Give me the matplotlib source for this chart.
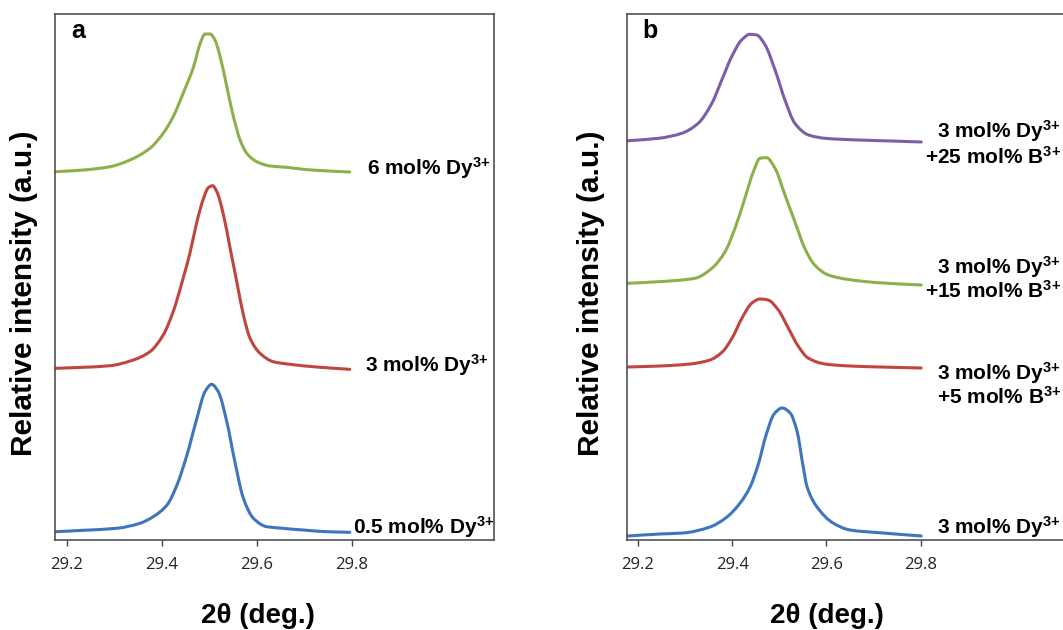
import matplotlib
matplotlib.use("Agg")
import matplotlib.pyplot as plt
import matplotlib.transforms as mtransforms
from matplotlib.path import Path
from matplotlib.patches import PathPatch

plt.rcParams['mathtext.fontset'] = 'custom'
plt.rcParams['mathtext.rm'] = 'Liberation Sans:bold'
plt.rcParams['mathtext.bf'] = 'Liberation Sans:bold'
plt.rcParams['mathtext.it'] = 'Liberation Sans:bold'

# ---------------- data (2theta in deg, relative intensity a.u., stacked) -------------
tt_a_6 = [29.177, 29.235, 29.291, 29.333, 29.375, 29.403, 29.424, 29.445, 29.467, 29.481, 29.491,
          29.502, 29.512, 29.523, 29.537, 29.551, 29.565, 29.579, 29.600, 29.628, 29.663, 29.698,
          29.740, 29.796]
int_a_6 = [368.3, 370.0, 373.3, 380.0, 391.7, 406.7, 423.3, 446.7, 473.3, 496.7, 506.0,
           506.0, 500.0, 483.3, 453.3, 423.3, 400.0, 386.7, 378.3, 374.0, 372.7, 370.7,
           369.3, 368.0]

tt_a_3 = [29.177, 29.235, 29.291, 29.340, 29.375, 29.403, 29.424, 29.445, 29.460, 29.474, 29.488,
          29.498, 29.507, 29.516, 29.530, 29.544, 29.558, 29.572, 29.586, 29.607, 29.635, 29.670,
          29.726, 29.796]
int_a_3 = [171.7, 172.7, 174.3, 180.0, 188.3, 205.0, 228.3, 261.7, 288.3, 318.3, 341.7,
           352.3, 354.3, 348.3, 325.0, 291.7, 258.3, 225.0, 201.7, 186.7, 178.3, 175.7,
           173.0, 170.7]

tt_a_05 = [29.177, 29.235, 29.305, 29.354, 29.382, 29.411, 29.432, 29.453, 29.474, 29.491, 29.505,
           29.519, 29.537, 29.554, 29.572, 29.593, 29.621, 29.656, 29.670, 29.698, 29.747, 29.796]
int_a_05 = [8.3, 9.7, 11.7, 16.7, 23.3, 35.0, 55.0, 85.0, 121.7, 148.3, 155.7,
            148.3, 118.3, 78.3, 41.7, 21.7, 13.3, 11.7, 11.0, 10.0, 8.3, 7.7]

tt_b_25 = [29.179, 29.244, 29.293, 29.328, 29.357, 29.378, 29.399, 29.420, 29.438, 29.452, 29.470,
           29.491, 29.512, 29.533, 29.562, 29.597, 29.668, 29.738, 29.801]
int_b_25 = [399.3, 401.7, 406.7, 416.7, 436.7, 460.0, 483.3, 500.0, 505.7, 505.0, 495.0,
            470.0, 440.0, 416.7, 405.0, 401.7, 400.0, 399.0, 398.0]

tt_b_15 = [29.179, 29.244, 29.321, 29.357, 29.385, 29.406, 29.427, 29.445, 29.459, 29.473, 29.491,
           29.512, 29.533, 29.554, 29.575, 29.604, 29.654, 29.710, 29.801]
int_b_15 = [256.7, 258.3, 261.7, 271.7, 288.3, 311.7, 341.7, 368.3, 381.7, 382.3, 371.7,
            345.0, 318.3, 291.7, 275.0, 265.0, 260.0, 257.3, 255.0]

tt_b_5 = [29.179, 29.247, 29.311, 29.353, 29.379, 29.400, 29.421, 29.442, 29.459, 29.476, 29.498,
          29.519, 29.540, 29.561, 29.597, 29.650, 29.714, 29.801]
int_b_5 = [173, 174, 176, 180, 188, 202, 222, 237, 241, 240, 230,
           212, 194, 182, 176, 174, 173, 172]

tt_b_0 = [29.179, 29.247, 29.296, 29.353, 29.389, 29.417, 29.438, 29.455, 29.472, 29.489, 29.506,
          29.523, 29.538, 29.550, 29.559, 29.580, 29.614, 29.650, 29.720, 29.801]
int_b_0 = [4, 6, 7, 13, 23, 37, 53, 75, 105, 126, 132,
           127, 108, 75, 53, 33, 17, 10, 7, 4]

xticks = [29.2, 29.4, 29.6, 29.8]
xtick_labels = ['29.2', '29.4', '29.6', '29.8']

SUP = '$^{3{+}}$'
labels_a = ['6 mol% Dy' + SUP, '3 mol% Dy' + SUP, '0.5 mol% Dy' + SUP]
labels_b = [('3 mol% Dy' + SUP, '+25 mol% B' + SUP),
            ('3 mol% Dy' + SUP, '+15 mol% B' + SUP),
            ('3 mol% Dy' + SUP, '+5 mol% B' + SUP),
            ('3 mol% Dy' + SUP,)]

c_blue, c_red, c_green, c_purple = '#3E75BD', '#C0453F', '#8DB04A', '#7B5EA7'


def smooth_path(x, y):
    """Smoothed (shape-preserving cubic) drawing path through the measured points."""
    n = len(x)
    h = [x[i + 1] - x[i] for i in range(n - 1)]
    d = [(y[i + 1] - y[i]) / h[i] for i in range(n - 1)]
    m = [0.0] * n
    m[0], m[-1] = d[0], d[-1]
    for k in range(1, n - 1):
        if d[k - 1] * d[k] <= 0:
            m[k] = 0.0
        else:
            w1 = 2 * h[k] + h[k - 1]
            w2 = h[k] + 2 * h[k - 1]
            m[k] = (w1 + w2) / (w1 / d[k - 1] + w2 / d[k])
    verts = [(x[0], y[0])]
    codes = [Path.MOVETO]
    for i in range(n - 1):
        verts += [(x[i] + h[i] / 3, y[i] + m[i] * h[i] / 3),
                  (x[i + 1] - h[i] / 3, y[i + 1] - m[i + 1] * h[i] / 3),
                  (x[i + 1], y[i + 1])]
        codes += [Path.CURVE4] * 3
    return Path(verts, codes)


def draw(ax, x, y, color):
    ax.add_patch(PathPatch(smooth_path(x, y), facecolor='none', edgecolor=color,
                           lw=2.2, capstyle='round', joinstyle='round'))


W, H = 1063, 630
fig = plt.figure(figsize=(W / 100, H / 100), dpi=100)
ax_a = fig.add_axes([55 / W, 90 / H, 439 / W, 526 / H])
ax_b = fig.add_axes([626.5 / W, 90 / H, 440 / W, 526 / H])


def style(ax, xlim):
    ax.set_xlim(*xlim)
    ax.set_ylim(0, 526)
    ax.set_yticks([])
    ax.set_xticks(xticks)
    ax.set_xticklabels(xtick_labels, fontfamily='Open Sans', fontsize=12, color='#222222')
    ax.tick_params(axis='x', direction='out', length=4, width=1.0, color='#444444', pad=8)
    for s in ax.spines.values():
        s.set_color('#444444')
        s.set_linewidth(1.1)
    ax.set_xlabel('2θ (deg.)', fontfamily='Liberation Sans', fontweight='bold', fontsize=20,
                  va='center')
    ax.set_ylabel('Relative intensity (a.u.)', fontfamily='Liberation Sans', fontweight='bold',
                  fontsize=21.5, va='center')


style(ax_a, (29.175, 30.1))
style(ax_b, (29.176, 30.109))
ax_a.xaxis.set_label_coords(0.462, -0.145)
ax_b.xaxis.set_label_coords(0.455, -0.145)
ax_a.yaxis.set_label_coords(-0.070, 0.47)
ax_b.yaxis.set_label_coords(-0.081, 0.47)

draw(ax_a, tt_a_6, int_a_6, c_green)
draw(ax_a, tt_a_3, int_a_3, c_red)
draw(ax_a, tt_a_05, int_a_05, c_blue)

draw(ax_b, tt_b_25, int_b_25, c_purple)
draw(ax_b, tt_b_15, int_b_15, c_green)
draw(ax_b, tt_b_5, int_b_5, c_red)
draw(ax_b, tt_b_0, int_b_0, c_blue)

tkw = dict(fontfamily='Liberation Sans', fontweight='bold', fontsize=15, va='baseline',
           clip_on=False)
ax_a.text(29.832, 365, labels_a[0], ha='left', **tkw)
ax_a.text(29.828, 168, labels_a[1], ha='left', **tkw)
ax_a.text(29.802, 6, labels_a[2], ha='left', **tkw)

base_b = [(401.7, 376.7), (266.7, 242.3), (160, 136), (6,)]
trans_b = mtransforms.blended_transform_factory(fig.transFigure, ax_b.transData)
for lines, ys in zip(labels_b, base_b):
    for t, yv in zip(lines, ys):
        fig.text(1061 / W, yv, t, ha='right', transform=trans_b, **tkw)

ax_a.text(0.036, 0.954, 'a', transform=ax_a.transAxes, fontfamily='Liberation Sans',
          fontweight='bold', fontsize=18, va='baseline')
ax_b.text(0.035, 0.954, 'b', transform=ax_b.transAxes, fontfamily='Liberation Sans',
          fontweight='bold', fontsize=18, va='baseline')

fig.savefig('out.png', dpi=100)
